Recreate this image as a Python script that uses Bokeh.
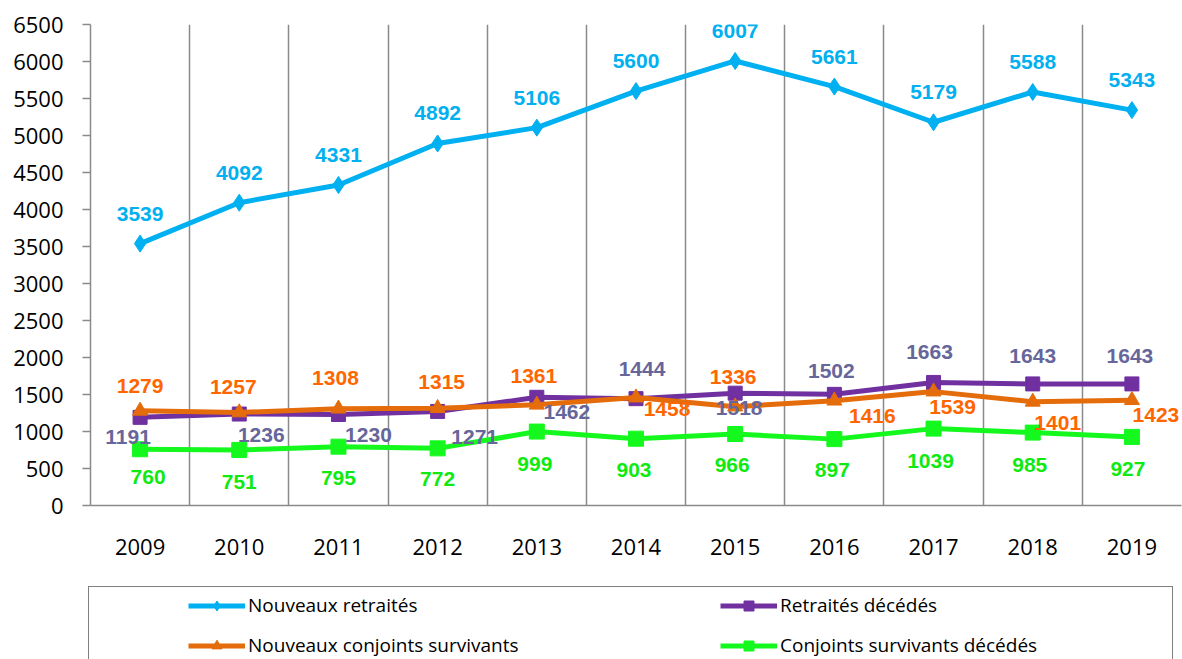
from bokeh.plotting import figure
from bokeh.layouts import column
from bokeh.models import (ColumnDataSource, FactorRange, Range1d, FixedTicker,
                          Legend, LegendItem)
from bokeh.core.properties import value
from bokeh.embed import file_html
from bokeh.resources import INLINE

# ---------------- data ----------------
years = ["2009", "2010", "2011", "2012", "2013", "2014", "2015", "2016", "2017", "2018", "2019"]
nouveaux_retraites = [3539, 4092, 4331, 4892, 5106, 5600, 6007, 5661, 5179, 5588, 5343]
retraites_decedes = [1191, 1236, 1230, 1271, 1462, 1444, 1518, 1502, 1663, 1643, 1643]
nouveaux_conjoints = [1279, 1257, 1308, 1315, 1361, 1458, 1336, 1416, 1539, 1401, 1423]
conjoints_decedes = [760, 751, 795, 772, 999, 903, 966, 897, 1039, 985, 927]
y_ticks = list(range(0, 7000, 500))

series_names = ["Nouveaux retraités", "Retraités décédés",
                "Nouveaux conjoints survivants", "Conjoints survivants décédés"]

# ---------------- label placement (screen px, style only) ----------------
dx_nr = [0] * 11
dy_nr = [-30] * 11
dx_rd = [-12, 22, 30, 37, 30, 6, 4, -3, -4, 0, -2]
dy_rd = [20, 21, 21, 26, 15, -30, 15, -23, -30, -28, -28]
dx_nc = [0, -6, -3, 4, -3, 31, -2, 38, 19, 25, 24]
dy_nc = [-25, -25, -31, -26, -29, 11, -30, 15, 15, 21, 15]
dx_cd = [8, 0, 0, 0, -2, -2, -3, -2, -3, -3, -4]
dy_cd = [28, 32, 31, 31, 32, 31, 31, 31, 32, 32, 32]

line_colors = ["#00B0F0", "#7030A0", "#E46C0A", "#14F81E"]
label_colors = ["#00B0F0", "#66669A", "#FF6600", "#10EA10"]
markers = ["diamond", "square", "triangle", "square"]
marker_sizes = [17, 14, 15, 15]

W = 1182
p = figure(width=W, height=585, x_range=FactorRange(*years, range_padding=0),
           y_range=Range1d(0, 6500), output_backend="svg", toolbar_location=None,
           min_border_left=90, min_border_right=1, min_border_top=24, min_border_bottom=80)
p.outline_line_color = None
p.background_fill_color = "white"
p.frame_align = False

GRAY = "#8A8A8A"
p.yaxis.ticker = FixedTicker(ticks=y_ticks)
p.yaxis.major_tick_out = 8
p.yaxis.major_tick_in = 0
p.yaxis.minor_tick_line_color = None
p.yaxis.major_tick_line_color = GRAY
p.yaxis.major_tick_line_width = 1.5
p.yaxis.axis_line_color = GRAY
p.yaxis.axis_line_width = 1.5
p.yaxis.major_label_standoff = 19
p.yaxis.major_label_text_font = "Open Sans"
p.yaxis.major_label_text_font_size = "22px"
p.yaxis.major_label_text_color = "black"

p.xaxis.major_tick_line_color = None
p.xaxis.minor_tick_line_color = None
p.xaxis.axis_line_color = GRAY
p.xaxis.axis_line_width = 1.5
p.xaxis.major_label_standoff = 27
p.xaxis.major_label_text_font = "Open Sans"
p.xaxis.major_label_text_font_size = "22px"
p.xaxis.major_label_text_color = "black"

p.ygrid.grid_line_color = None
p.xgrid.ticker = FixedTicker(ticks=list(range(1, len(years) + 1)))
p.xgrid.grid_line_color = GRAY
p.xgrid.grid_line_width = 1.5

all_values = [nouveaux_retraites, retraites_decedes, nouveaux_conjoints, conjoints_decedes]
all_dx = [dx_nr, dx_rd, dx_nc, dx_cd]
all_dy = [dy_nr, dy_rd, dy_nc, dy_cd]

for i, vals in enumerate(all_values):
    src = ColumnDataSource(dict(x=years, y=vals))
    p.line("x", "y", source=src, line_color=line_colors[i], line_width=5)
    p.scatter("x", "y", source=src, marker=markers[i], size=marker_sizes[i],
              fill_color=line_colors[i], line_color=line_colors[i])

for i, vals in enumerate(all_values):
    src = ColumnDataSource(dict(x=years, y=vals, t=[str(v) for v in vals],
                                dx=all_dx[i], dy=all_dy[i]))
    p.text("x", "y", text="t", source=src, x_offset="dx", y_offset="dy",
           text_align="center", text_baseline="middle",
           text_font=value("Liberation Sans"), text_font_style="bold",
           text_font_size="21px", text_color=label_colors[i])

# ---------------- legend panel (separate figure below) ----------------
lg = figure(width=W, height=74, x_range=Range1d(0, 1), y_range=Range1d(0, 1),
            x_axis_type=None, y_axis_type=None, output_backend="svg",
            toolbar_location=None, min_border=0)
lg.outline_line_color = None
lg.grid.visible = False
lg.frame_align = False

# off-screen stand-in renderers, used only for legend swatches
dummy = lg.line(x=[-5, -4], y=[-5, -5], line_alpha=0)
box = Legend(items=[LegendItem(label=" ", renderers=[dummy])],
             location=(88, -9), padding=0, margin=0,
             glyph_width=1000, glyph_height=80, label_height=80,
             label_standoff=0, label_width=83,
             border_line_color="black", border_line_width=1.5,
             background_fill_color="white", background_fill_alpha=1,
             label_text_font_size="19px")
lg.add_layout(box, "center")

items = []
for i in range(4):
    lr = lg.line(x=[-5, -4], y=[-5, -5], line_color=line_colors[i], line_width=5)
    sr = lg.scatter(x=[-5], y=[-5], marker=markers[i], size=marker_sizes[i],
                    fill_color=line_colors[i], line_color=line_colors[i])
    items.append(LegendItem(label=series_names[i], renderers=[lr, sr]))

# column-major filling with 2 columns -> order so rows read as in the reference
leg = Legend(items=[items[0], items[2], items[1], items[3]], ncols=2,
             location=(188, 1), padding=0, margin=0, spacing=14,
             glyph_width=57, glyph_height=25, label_standoff=3, label_width=458,
             border_line_color=None, background_fill_alpha=0,
             label_text_font="Open Sans", label_text_font_size="19px",
             label_text_color="black")
lg.add_layout(leg, "center")

open("out.html", "w").write(file_html(column(p, lg, spacing=0), INLINE))
